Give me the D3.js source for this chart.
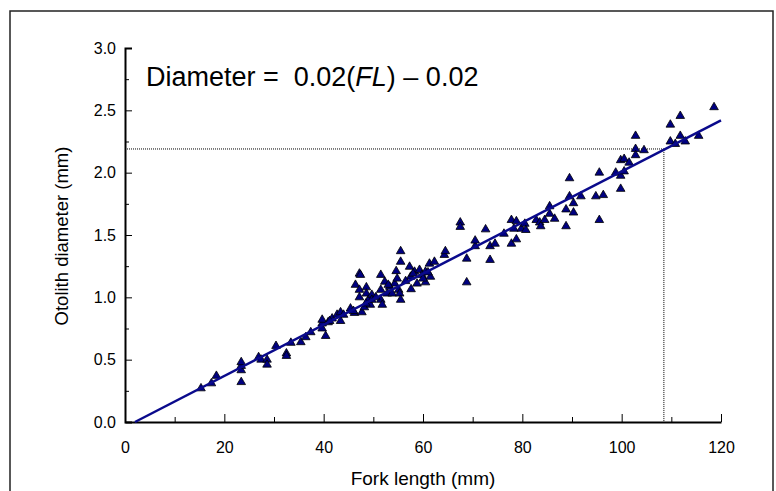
<!DOCTYPE html>
<html lang="en">
<head>
<meta charset="utf-8">
<title>Otolith diameter vs fork length</title>
<script src="https://d3js.org/d3.v7.min.js"></script>
<style>
  body { margin: 0; background: #fff; }
  text { font-family: "Liberation Sans", Arial, Helvetica, sans-serif; }
</style>
</head>
<body>
<script>

var w = 776;
var h = 491;

// fork length (mm)
var forkLength = [15.3, 17.4, 18.4, 23.4, 23.4, 23.4, 23.4, 26.9, 27.4, 28.6, 28.6, 30.4, 32.5, 32.5,
  33.4, 35.4, 36.4, 37.4, 39.7, 39.7, 39.7, 40.4, 40.9, 41.7, 42.7, 43.4, 43.4, 45.4, 46.2, 46.4,
  47.2, 47.4, 47.2, 47.2, 47.7, 48.2, 48.6, 48.6, 49.0, 49.4, 49.7, 49.7, 51.5, 51.5, 51.5, 51.8,
  52.3, 52.8, 53.3, 53.8, 54.3, 54.6, 54.8, 55.1, 55.3, 55.5, 55.5, 55.5, 57.3, 57.5, 57.6, 58.3,
  58.8, 59.3, 59.8, 60.5, 60.5, 61.3, 61.5, 62.3, 64.3, 64.5, 67.5, 67.5, 68.8, 68.8, 70.5, 70.5,
  72.6, 73.5, 73.5, 74.5, 76.3, 77.8, 77.8, 78.3, 78.8, 78.8, 79.8, 80.5, 80.7, 82.8, 83.5, 83.7,
  84.5, 85.5, 85.5, 86.5, 88.8, 88.8, 89.5, 89.5, 90.3, 90.3, 91.8, 94.8, 95.5, 95.5, 96.3, 98.8,
  99.8, 99.8, 99.8, 100.5, 100.5, 101.5, 102.8, 102.8, 102.8, 104.5, 109.8, 109.8, 110.8, 111.8,
  111.8, 112.8, 115.5, 118.6, 41.2, 44.0, 46.0, 48.5, 50.5, 53.0, 56.5, 58.0, 60.0, 61.0];

// otolith diameter (mm)
var diameter = [0.27, 0.31, 0.37, 0.32, 0.415, 0.45, 0.48, 0.52, 0.50, 0.50, 0.46, 0.61, 0.55, 0.53,
  0.635, 0.64, 0.68, 0.72, 0.75, 0.79, 0.82, 0.69, 0.80, 0.83, 0.86, 0.81, 0.88, 0.91, 0.875, 1.10,
  1.19, 1.18, 1.06, 1.00, 0.88, 0.92, 1.08, 1.03, 0.98, 0.94, 1.02, 0.98, 1.18, 1.06, 0.98, 0.94,
  1.125, 1.03, 1.085, 1.03, 1.11, 1.21, 1.15, 1.06, 1.03, 1.37, 1.285, 0.98, 1.245, 1.165, 1.065, 1.205,
  1.11, 1.22, 1.18, 1.12, 1.205, 1.27, 1.165, 1.285, 1.34, 1.37, 1.60, 1.565, 1.31, 1.12, 1.41, 1.455,
  1.545, 1.41, 1.30, 1.43, 1.51, 1.62, 1.43, 1.55, 1.61, 1.465, 1.55, 1.59, 1.54, 1.62, 1.60, 1.57,
  1.62, 1.73, 1.67, 1.63, 1.705, 1.57, 1.955, 1.81, 1.755, 1.68, 1.81, 1.81, 2.00, 1.62, 1.82, 2.00,
  2.10, 1.975, 1.87, 2.11, 2.01, 2.08, 2.295, 2.19, 2.14, 2.18, 2.385, 2.25, 2.23, 2.455,
  2.295, 2.25, 2.295, 2.525, 0.81, 0.86, 0.89, 0.95, 1.00, 1.10, 1.13, 1.19, 1.15, 1.20];

// fitted line end points and the 2.19 mm read-off
var fitX = [2, 120];
var fitY = [0, 2.42];
var refX = 108.5;
var refY = 2.19;

var xTicks = [0, 20, 40, 60, 80, 100, 120];
var yTicks = [0, 0.5, 1.0, 1.5, 2.0, 2.5, 3.0];

var svg = d3.select("body").append("svg")
    .attr("width", w)
    .attr("height", h);

// frame
svg.append("rect")
    .attr("x", 10).attr("y", 11)
    .attr("width", 763).attr("height", 500)
    .attr("fill", "none")
    .attr("stroke", "#222")
    .attr("stroke-width", 1.5);

var x = d3.scaleLinear().domain([0, 120]).range([125, 721]);
var y = d3.scaleLinear().domain([0, 3]).range([422, 48]);

// minor ticks
svg.append("g")
    .attr("transform", "translate(0," + y(0) + ")")
    .call(d3.axisBottom(x).tickValues(d3.range(10, 120, 20)).tickSizeInner(-5).tickSizeOuter(0).tickFormat(""))
    .call(function (g) { g.select(".domain").remove(); });
svg.append("g")
    .attr("transform", "translate(" + x(0) + ",0)")
    .call(d3.axisLeft(y).tickValues(d3.range(0.25, 3, 0.5)).tickSizeInner(-4).tickSizeOuter(0).tickFormat(""))
    .call(function (g) { g.select(".domain").remove(); });

var xAxis = svg.append("g")
    .attr("transform", "translate(0," + y(0) + ")")
    .call(d3.axisBottom(x).tickValues(xTicks).tickSizeInner(-8).tickSizeOuter(0).tickPadding(20)
        .tickFormat(d3.format("d")));

var yAxis = svg.append("g")
    .attr("transform", "translate(" + x(0) + ",0)")
    .call(d3.axisLeft(y).tickValues(yTicks).tickSizeInner(-7).tickSizeOuter(-7).tickPadding(9)
        .tickFormat(d3.format(".1f")));

svg.selectAll(".tick line").attr("stroke", "#000").attr("stroke-width", 1);
svg.selectAll(".domain").attr("stroke", "#000").attr("stroke-width", 2);
svg.selectAll(".tick text").attr("font-size", 16).attr("fill", "#000")
    .attr("font-family", "'Liberation Sans', Arial, sans-serif");

// dotted read-off lines
svg.append("path")
    .attr("d", "M" + x(0) + "," + y(refY) + "H" + x(refX) + "V" + y(0))
    .attr("fill", "none")
    .attr("stroke", "#000")
    .attr("stroke-width", 1)
    .attr("stroke-dasharray", "1,1");

// points
svg.append("g")
    .selectAll("path")
    .data(forkLength)
    .enter()
    .append("path")
    .attr("transform", function (d, i) {
        return "translate(" + x(d) + "," + y(diameter[i]) + ")";
    })
    .attr("d", d3.symbol().type(d3.symbolTriangle).size(32))
    .attr("fill", "#000080")
    .attr("stroke", "#000")
    .attr("stroke-width", 0.8);

// fitted line
var line = d3.line()
    .x(function (d) { return x(d); })
    .y(function (d, i) { return y(fitY[i]); });

svg.append("path")
    .datum(fitX)
    .attr("d", line)
    .attr("fill", "none")
    .attr("stroke", "#0a0a8c")
    .attr("stroke-width", 2.5);

// equation
var eq = svg.append("text")
    .attr("x", 146)
    .attr("y", 86)
    .attr("font-size", 27)
    .attr("fill", "#000")
    .attr("xml:space", "preserve");
eq.append("tspan").text("Diameter =  0.02(");
eq.append("tspan").attr("font-style", "italic").text("FL");
eq.append("tspan").text(") \u2013 0.02");

// axis titles
svg.append("text")
    .attr("x", 423)
    .attr("y", 485)
    .attr("text-anchor", "middle")
    .attr("font-size", 19)
    .text("Fork length (mm)");

svg.append("text")
    .attr("transform", "translate(68,236) rotate(-90)")
    .attr("text-anchor", "middle")
    .attr("font-size", 18.5)
    .text("Otolith diameter (mm)");

</script>
</body>
</html>
